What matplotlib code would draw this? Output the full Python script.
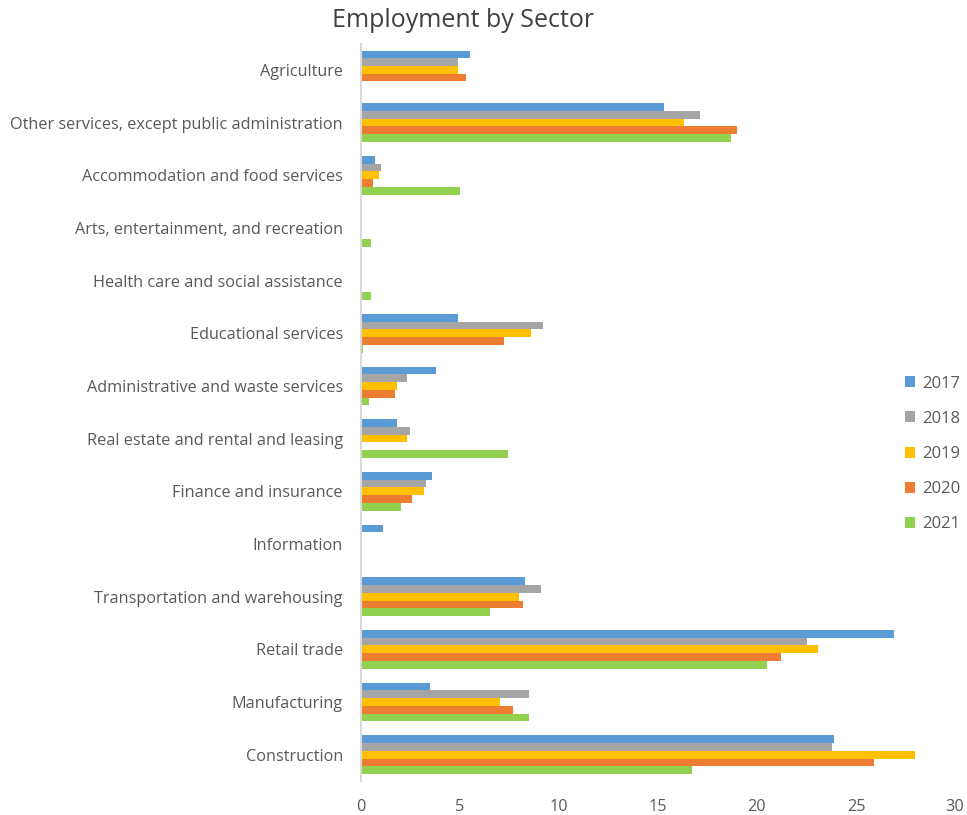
import matplotlib
matplotlib.use("Agg")
import matplotlib.pyplot as plt
import numpy as np

plt.rcParams["font.family"] = ["Open Sans", "DejaVu Sans"]

# categories listed bottom -> top
sectors = [
    "Construction",
    "Manufacturing",
    "Retail trade",
    "Transportation and warehousing",
    "Information",
    "Finance and insurance",
    "Real estate and rental and leasing",
    "Administrative and waste services",
    "Educational services",
    "Health care and social assistance",
    "Arts, entertainment, and recreation",
    "Accommodation and food services",
    "Other services, except public administration",
    "Agriculture",
]
years = ["2017", "2018", "2019", "2020", "2021"]

v2017 = [23.9, 3.5, 26.9, 8.3, 1.1, 3.6, 1.8, 3.8, 4.9, 0, 0, 0.7, 15.3, 5.5]
v2018 = [23.8, 8.5, 22.5, 9.1, 0, 3.3, 2.5, 2.3, 9.2, 0, 0, 1.0, 17.1, 4.9]
v2019 = [28.0, 7.0, 23.1, 8.0, 0, 3.2, 2.3, 1.8, 8.6, 0, 0, 0.9, 16.3, 4.9]
v2020 = [25.9, 7.7, 21.2, 8.2, 0, 2.6, 0, 1.7, 7.2, 0, 0, 0.6, 19.0, 5.3]
v2021 = [16.7, 8.5, 20.5, 6.5, 0, 2.0, 7.4, 0.4, 0.1, 0.5, 0.5, 5.0, 18.7, 0]

colors = ["#5B9BD5", "#A5A5A5", "#FFC000", "#ED7D31", "#92D050"]
series = [v2017, v2018, v2019, v2020, v2021]

fig = plt.figure(figsize=(9.67, 8.15), dpi=100)
ax = fig.add_axes([0.3733, 0.0417, 0.6143, 0.9048])

y = np.arange(len(sectors))
bh = 0.146
for i, (vals, c, yr) in enumerate(zip(series, colors, years)):
    ax.barh(y + (2 - i) * bh, vals, height=bh, color=c, label=yr)

ax.set_xlim(0, 30)
ax.set_ylim(-0.5, len(sectors) - 0.5)
ax.set_xticks(range(0, 31, 5))
ax.set_yticks(y)
ax.set_yticklabels(sectors)
ax.tick_params(axis="both", length=0, colors="#595959", labelsize=11.7)
ax.tick_params(axis="x", pad=13)
ax.tick_params(axis="y", pad=13)
for s in ["top", "right", "bottom"]:
    ax.spines[s].set_visible(False)
ax.spines["left"].set_color("#D9D9D9")
ax.spines["left"].set_linewidth(1.5)

fig.text(0.479, 0.975, "Employment by Sector", ha="center", va="center",
         fontsize=18, color="#404040")

leg = ax.legend(loc="center left", bbox_to_anchor=(0.92, 0.443),
                bbox_transform=fig.transFigure, frameon=False,
                handlelength=0.65, handleheight=0.65, handletextpad=0.4,
                labelspacing=1.15, fontsize=12)
for t in leg.get_texts():
    t.set_color("#595959")

fig.savefig("out.png", dpi=100)
